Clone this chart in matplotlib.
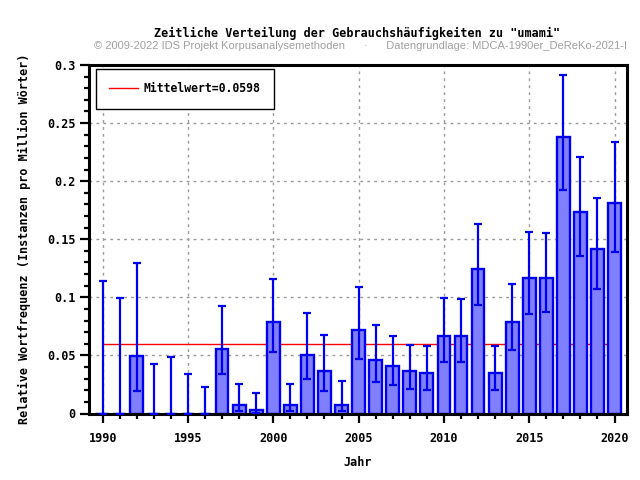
import matplotlib
matplotlib.use("Agg")
import matplotlib.pyplot as plt
from matplotlib.ticker import MultipleLocator, FixedLocator
import numpy as np

years = list(range(1990, 2021))
values = [0, 0, 0.0496, 0, 0, 0, 0, 0.0553, 0.0072, 0.0029, 0.0785, 0.0072, 0.0502, 0.0364, 0.0072,
          0.0716, 0.0458, 0.0407, 0.0364, 0.0347, 0.0665, 0.0665, 0.1241, 0.0347, 0.0785,
          0.1164, 0.1164, 0.2376, 0.1731, 0.1413, 0.1808]
err_low = [0, 0, 0.0192, 0, 0, 0, 0, 0.0338, 0.002, 0.0005, 0.0533, 0.002, 0.0295, 0.0192, 0.002,
           0.0473, 0.0275, 0.0249, 0.0215, 0.0206, 0.0447, 0.0447, 0.0937, 0.0198, 0.055,
           0.086, 0.0877, 0.1926, 0.1358, 0.1075, 0.1393]
err_high = [0.1138, 0.0992, 0.1293, 0.0424, 0.0484, 0.0338, 0.0226, 0.0923, 0.0252, 0.0175, 0.1155,
            0.0252, 0.0862, 0.0673, 0.0278, 0.1086, 0.0759, 0.0665, 0.0593, 0.0585, 0.0997,
            0.0989, 0.1634, 0.0585, 0.1118, 0.1559, 0.155, 0.2915, 0.2212, 0.1851, 0.2341]
mean_value = 0.0598
y_ticks = [0, 0.05, 0.1, 0.15, 0.2, 0.25, 0.3]
y_tick_labels = ["0", "0.05", "0.1", "0.15", "0.2", "0.25", "0.3"]
x_ticks = [1990, 1995, 2000, 2005, 2010, 2015, 2020]

mono = "DejaVu Sans Mono"

fig = plt.figure(figsize=(6.4, 4.8), dpi=100)
ax = fig.add_axes([89/640, 1 - 413.5/480, (626.5-89)/640, (413.5-65)/480])

ax.grid(True, which="major", color="#999999", linestyle=(0, (2, 3)), linewidth=1)
ax.set_axisbelow(True)

vals = np.array(values)
yerr = np.array([vals - np.array(err_low), np.array(err_high) - vals])
ax.bar(years, vals, width=0.75, color="#8080ff", edgecolor="#0000ee", linewidth=1.7, zorder=2)
ax.errorbar(years, vals, yerr=yerr, fmt="none", ecolor="#0000ee", elinewidth=1.6,
            capsize=2.8, capthick=1.6, zorder=3)
ax.plot([1990, 2019.55], [mean_value, mean_value], color="red", linewidth=1, zorder=1.5,
        label="Mittelwert=0.0598")

ax.set_xlim(1989.2, 2020.7)
ax.set_ylim(0, 0.3)
ax.yaxis.set_major_locator(FixedLocator(y_ticks))
ax.set_yticklabels(y_tick_labels)
ax.yaxis.set_minor_locator(MultipleLocator(0.01))
ax.xaxis.set_major_locator(FixedLocator(x_ticks))
ax.xaxis.set_minor_locator(MultipleLocator(1))

for s in ax.spines.values():
    s.set_linewidth(2.2)
ax.tick_params(which="major", direction="out", length=6.5, width=1.6, labelsize=8.5, pad=3)
ax.tick_params(which="minor", direction="out", length=3.5, width=1.6)
for lab in ax.get_xticklabels() + ax.get_yticklabels():
    lab.set_fontfamily(mono)
    lab.set_fontweight("bold")
ax.tick_params(axis="x", pad=7)

ax.set_xlabel("Jahr", fontfamily=mono, fontweight="bold", fontsize=8.5, labelpad=8)
ax.set_ylabel("Relative Wortfrequenz (Instanzen pro Million Wörter)", fontfamily=mono,
              fontweight="bold", fontsize=8.5, labelpad=12)

leg = ax.legend(loc="upper left", prop={"family": mono, "weight": "bold", "size": 8.3},
                fancybox=False, edgecolor="black", framealpha=1, borderpad=1.15,
                handlelength=2.5, handletextpad=0.5, borderaxespad=0,
                bbox_to_anchor=(7/537.5, 1 - 4/348.5))
leg.get_frame().set_linewidth(1)

fig.text(357/640, 1 - 33/480, 'Zeitliche Verteilung der Gebrauchshäufigkeiten zu "umami"',
         ha="center", va="center", fontfamily=mono, fontweight="bold", fontsize=8.5)
fig.text(361/640, 1 - 46/480,
         "© 2009-2022 IDS Projekt Korpusanalysemethoden      ·      Datengrundlage: MDCA-1990er_DeReKo-2021-I",
         ha="center", va="center", fontfamily="Liberation Sans", fontsize=8, color="#a0a0a0")

fig.savefig("out.png", dpi=100)
